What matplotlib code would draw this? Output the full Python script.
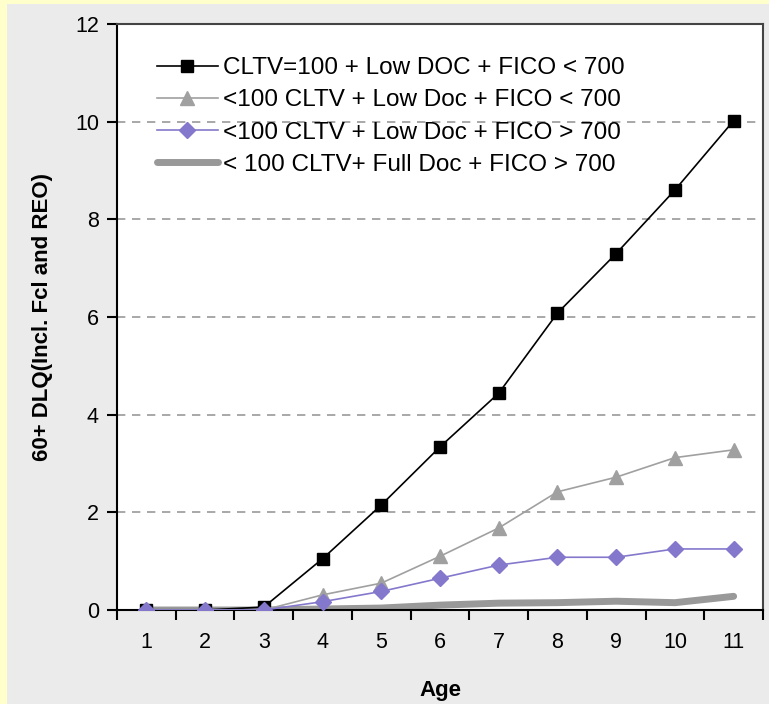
import numpy as np
import matplotlib.pyplot as plt
from matplotlib.patches import Rectangle

plt.rcParams['font.family'] = ['Liberation Sans', 'DejaVu Sans']

# Dados
idade = [1, 2, 3, 4, 5, 6, 7, 8, 9, 10, 11]
cltv100_low_baixo = [0, 0, 0.06, 1.05, 2.15, 3.34, 4.44, 6.08, 7.3, 8.6, 10.02]
menor100_low_baixo = [0, 0, 0, 0.31, 0.55, 1.1, 1.68, 2.42, 2.72, 3.12, 3.28]
menor100_low_alto = [0, 0, 0, 0.17, 0.38, 0.65, 0.92, 1.08, 1.08, 1.25, 1.25]
menor100_full_alto = [0, 0, 0, 0.02, 0.04, 0.1, 0.14, 0.15, 0.18, 0.15, 0.28]

rotulos = ['CLTV=100 + Low DOC + FICO < 700',
           '<100 CLTV + Low Doc + FICO < 700',
           '<100 CLTV + Low Doc + FICO > 700',
           '< 100 CLTV+ Full Doc + FICO > 700']

fig = plt.figure(figsize=(7.69, 7.04), dpi=100)
fig.patch.set_facecolor('#ffffcc')
# fundo cinza com borda amarela a esquerda e em cima
fig.patches.append(Rectangle((7 / 769, 0), 1, 1 - 4 / 704, transform=fig.transFigure,
                             facecolor='#ebebeb', edgecolor='none', zorder=-10))

ax = fig.add_axes([117 / 769, 1 - 610 / 704, (763 - 117) / 769, (610 - 24) / 704])
ax.set_zorder(1)
ax.set_facecolor('white')

ax.plot(idade, menor100_full_alto, color='#999999', lw=5, solid_capstyle='round',
        label=rotulos[3], zorder=2)
ax.plot(idade, cltv100_low_baixo, color='black', lw=1.2, marker='s', ms=9,
        label=rotulos[0], zorder=3)
ax.plot(idade, menor100_low_baixo, color='#a0a0a0', lw=1.2, marker='^', ms=10,
        label=rotulos[1], zorder=3)
ax.plot(idade, menor100_low_alto, color='#8478cc', lw=1.2, marker='D', ms=8,
        label=rotulos[2], zorder=4)

ax.set_xlim(0.5, 11.5)
ax.set_ylim(0, 12)
ax.set_yticks(np.arange(0, 13, 2))
ax.set_xticks(idade)
ax.set_xticks(np.arange(0.5, 11.6, 1), minor=True)
ax.tick_params(axis='x', which='major', length=0, pad=16, labelsize=15.5)
ax.tick_params(axis='x', which='minor', length=7, width=1.5, direction='out')
ax.tick_params(axis='y', length=7, width=1.5, labelsize=15.5, pad=6)

for y in [2, 4, 6, 8, 10]:
    ax.axhline(y, color='#999999', ls=(0, (5, 4)), lw=1.2, zorder=1)

for s in ['left', 'bottom']:
    ax.spines[s].set_linewidth(1.5)
    ax.spines[s].set_color('black')
for s in ['top', 'right']:
    ax.spines[s].set_linewidth(1.5)
    ax.spines[s].set_color('#444444')

ax.set_xlabel('Age', fontsize=16, fontweight='bold', labelpad=19)
ax.set_ylabel('60+ DLQ(Incl. Fcl and REO)', fontsize=16, fontweight='bold', labelpad=16)

handles, labels = ax.get_legend_handles_labels()
ordem = [1, 2, 3, 0]
ax.legend([handles[i] for i in ordem], [labels[i] for i in ordem],
          loc='upper left', bbox_to_anchor=(0.047, 0.96), frameon=False,
          fontsize=17.5, handlelength=2.5, handletextpad=0.2, labelspacing=0.42,
          borderaxespad=0)

fig.savefig('out.png', dpi=100, facecolor=fig.get_facecolor())
